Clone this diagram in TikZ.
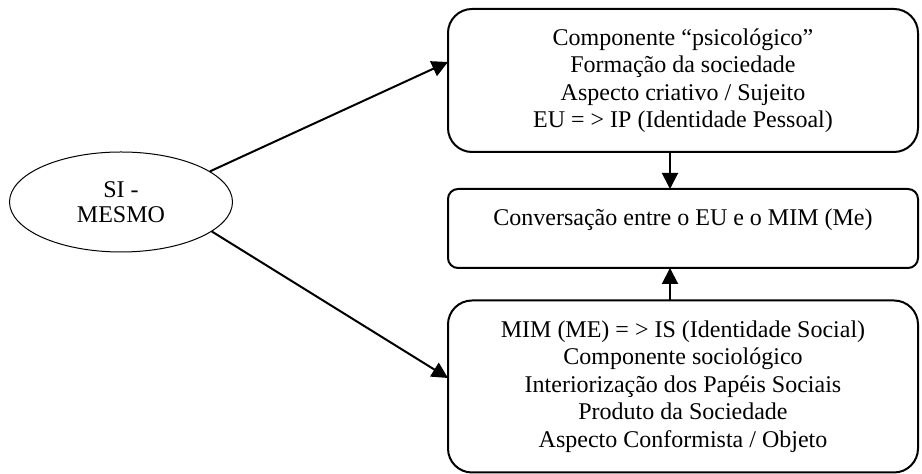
\documentclass[tikz,border=0pt]{standalone}
\usepackage{fontspec}
\setmainfont{Liberation Serif}
\usetikzlibrary{shapes.geometric,arrows.meta}
\begin{document}
\begin{tikzpicture}[x=0.5pt,y=-0.5pt,
  txt/.style={font=\fontsize{12}{13.75}\selectfont,align=center,inner sep=0pt},
  bigbox/.style={draw,line width=1pt,rounded corners=12pt,minimum width=235pt,inner sep=0pt},
  midbox/.style={draw,line width=1pt,rounded corners=5pt,minimum width=235pt,minimum height=39.5pt,inner sep=0pt},
  oval/.style={draw,ellipse,line width=0.5pt,minimum width=111.5pt,minimum height=50pt,inner sep=0pt,font=\fontsize{12}{12.5}\selectfont,align=center},
  conn/.style={line width=1pt,-{Triangle[length=8pt,width=8pt]}}]
\useasboundingbox (0,0) rectangle (922,474);
\node[oval] (si) at (121,202) {SI -\\MESMO};
\node[bigbox,minimum height=71.5pt,txt,font=\fontsize{12}{13.75}\selectfont] (top) at (683,80.5)
  {Componente “psicológico”\\Formação da sociedade\\Aspecto criativo / Sujeito\\EU = > IP (Identidade Pessoal)};
\node[midbox] (mid) at (683,228.5) {};
\node[txt] (midtext) at (683,220) {Conversação entre o EU e o MIM (Me)};
\node[bigbox,minimum height=86pt,txt,font=\fontsize{12}{13.75}\selectfont] (bot) at (683,386.5)
  {MIM (ME) = > IS (Identidade Social)\\Componente sociológico\\Interiorização dos Papéis Sociais\\Produto da Sociedade\\Aspecto Conformista / Objeto};
\coordinate (t1) at (448,62);
\coordinate (b1) at (448,378);
\coordinate (ta) at (670,152);
\coordinate (ma) at (670,189);
\coordinate (ba) at (670,300);
\coordinate (mb) at (670,268);
\draw[conn] (si.19) -- (t1);
\draw[conn] (si.-18) -- (b1);
\draw[conn] (ta) -- (ma);
\draw[conn] (ba) -- (mb);
\end{tikzpicture}
\end{document}
